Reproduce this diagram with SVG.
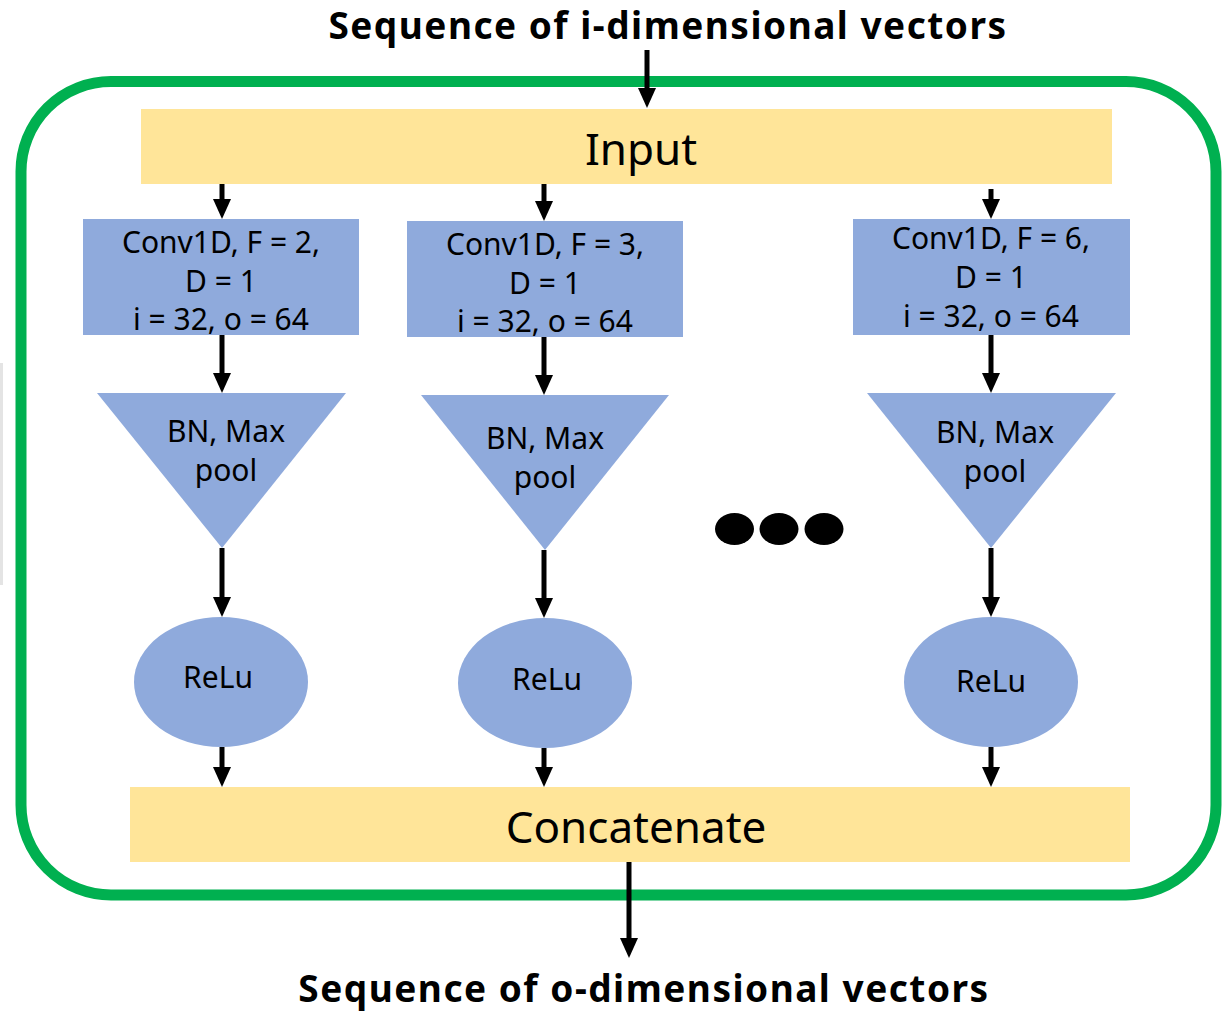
<svg xmlns="http://www.w3.org/2000/svg" width="1230" height="1016" viewBox="0 0 1230 1016">
<style>
.title{font-family:"Noto Sans","Open Sans","DejaVu Sans",sans-serif;font-weight:bold;font-size:37px;letter-spacing:1.5px;fill:#000;text-anchor:middle}
.big{font-family:"Noto Sans","Open Sans","DejaVu Sans",sans-serif;font-size:44px;fill:#000;text-anchor:middle}
.lbl{font-family:"Noto Sans","Open Sans","DejaVu Sans",sans-serif;font-size:30px;fill:#000;text-anchor:middle}
.yel{fill:#FFE599}
.blue{fill:#8FAADC}
.con{stroke:#000;stroke-width:5;fill:none;marker-end:url(#ah)}
</style>
<defs>
<marker id="ah" markerUnits="userSpaceOnUse" viewBox="0 0 20 18" refX="10" refY="9" markerWidth="20" markerHeight="18" orient="auto">
<path d="M0,0 L20,9 L0,18 Z" fill="#000"/>
</marker>
</defs>
<rect x="0" y="363" width="3" height="222" fill="#e4e4e4"/>
<text class="title" x="668" y="39">Sequence of i-dimensional vectors</text>
<text class="title" x="644" y="1002">Sequence of o-dimensional vectors</text>
<rect id="frame" x="21" y="81.5" width="1195" height="813.5" rx="90" ry="90" fill="none" stroke="#00B050" stroke-width="11"/>
<g id="input"><rect class="yel" x="141" y="109" width="971" height="75"/><text class="big" x="641" y="165">Input</text></g>
<g id="conv1"><rect class="blue" x="83" y="219" width="276" height="116"/><text class="lbl" x="221" y="253">Conv1D, F = 2,</text><text class="lbl" x="221" y="292">D = 1</text><text class="lbl" x="221" y="330">i = 32, o = 64</text></g>
<g id="conv2"><rect class="blue" x="407" y="221" width="276" height="116"/><text class="lbl" x="545" y="255">Conv1D, F = 3,</text><text class="lbl" x="545" y="294">D = 1</text><text class="lbl" x="545" y="332">i = 32, o = 64</text></g>
<g id="conv3"><rect class="blue" x="853" y="219" width="277" height="116"/><text class="lbl" x="991" y="249">Conv1D, F = 6,</text><text class="lbl" x="991" y="288">D = 1</text><text class="lbl" x="991" y="327">i = 32, o = 64</text></g>
<g id="bn1"><polygon class="blue" points="97,393 346,393 222,548"/><text class="lbl" x="226" y="442">BN, Max</text><text class="lbl" x="226" y="481">pool</text></g>
<g id="bn2"><polygon class="blue" points="421,395 669,395 545,550"/><text class="lbl" x="545" y="449">BN, Max</text><text class="lbl" x="545" y="488">pool</text></g>
<g id="bn3"><polygon class="blue" points="867,393 1116,393 991,548"/><text class="lbl" x="995" y="443">BN, Max</text><text class="lbl" x="995" y="482">pool</text></g>
<g id="relu1"><ellipse class="blue" cx="221" cy="682" rx="87" ry="65"/><text class="lbl" x="218" y="688">ReLu</text></g>
<g id="relu2"><ellipse class="blue" cx="545" cy="683" rx="87" ry="65"/><text class="lbl" x="547" y="690">ReLu</text></g>
<g id="relu3"><ellipse class="blue" cx="991" cy="682" rx="87" ry="65"/><text class="lbl" x="991" y="692">ReLu</text></g>
<g id="dots"><ellipse cx="734.5" cy="529" rx="19.5" ry="16"/><ellipse cx="779" cy="529" rx="19.5" ry="16"/><ellipse cx="824" cy="529" rx="19.5" ry="16"/></g>
<g id="concat"><rect class="yel" x="130" y="787" width="1000" height="75"/><text class="big" x="636" y="843">Concatenate</text></g>
<g id="connectors">
<line class="con" x1="647" y1="50" x2="647" y2="98"/>
<line class="con" x1="222" y1="184" x2="222" y2="209"/>
<line class="con" x1="544" y1="184" x2="544" y2="211"/>
<line class="con" x1="991" y1="189" x2="991" y2="209"/>
<line class="con" x1="222" y1="335" x2="222" y2="383"/>
<line class="con" x1="544" y1="337" x2="544" y2="385"/>
<line class="con" x1="991" y1="335" x2="991" y2="383"/>
<line class="con" x1="222" y1="548" x2="222" y2="607"/>
<line class="con" x1="544" y1="550" x2="544" y2="608"/>
<line class="con" x1="991" y1="548" x2="991" y2="607"/>
<line class="con" x1="222" y1="747" x2="222" y2="777"/>
<line class="con" x1="544" y1="748" x2="544" y2="777"/>
<line class="con" x1="991" y1="747" x2="991" y2="777"/>
<line class="con" x1="629" y1="862" x2="629" y2="948"/>
</g>
</svg>
